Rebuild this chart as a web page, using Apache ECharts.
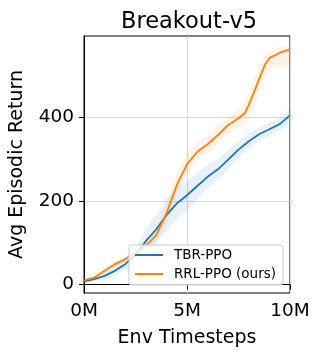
<!DOCTYPE html>
<html style="height: 100%">
<head>
    <meta charset="utf-8">
    <title>Breakout-v5</title>
    <script type="text/javascript" src="https://cdn.jsdelivr.net/npm/echarts@6/dist/echarts.min.js"></script>
</head>
<body style="height: 100%; margin: 0;">
<div id="container" style="height: 356px;width: 320px"></div>
<script type="text/javascript">
    // timesteps in millions
    var steps = [0, 0.5, 1, 1.5, 2, 2.5, 3, 3.5, 4, 4.5, 5, 5.5, 6, 6.5, 7, 7.5, 8, 8.5, 9, 9.5, 10];
    var tbrMean = [8, 13, 21, 33, 49, 70, 104, 132, 166, 194, 214, 236, 258, 276, 299, 323, 343, 360, 372, 384, 405];
    var tbrLow  = [4, 8, 14, 23, 35, 50, 76, 97, 128, 156, 178, 204, 230, 251, 276, 303, 325, 344, 357, 370, 391];
    var tbrHigh = [12, 18, 28, 43, 63, 90, 132, 167, 204, 232, 250, 268, 286, 301, 322, 343, 361, 376, 387, 398, 419];
    var rrlSteps = [0, 0.5, 1, 1.5, 2, 2.5, 3, 3.5, 4, 4.5, 5, 5.5, 6, 6.5, 7, 7.5, 7.8, 8, 8.25, 8.5, 8.8, 9, 9.5, 10];
    var rrlMean = [10, 17, 33, 49, 61, 75, 93, 118, 170, 238, 288, 318, 336, 358, 382, 398, 410, 430, 460, 492, 528, 542, 555, 563];
    var rrlLow  = [6, 12, 26, 42, 53, 65, 80, 100, 145, 210, 262, 296, 316, 336, 362, 376, 385, 398, 425, 462, 505, 515, 520, 520];
    var rrlHigh = [14, 22, 40, 56, 69, 85, 106, 136, 195, 262, 312, 340, 356, 380, 402, 420, 436, 458, 490, 518, 548, 558, 568, 574];
    var yTicks = [0, 200, 400];

    function pairs(xs, ys) {
        var out = [];
        for (var i = 0; i < xs.length; i++) {
            out.push([xs[i], ys[i]]);
        }
        return out;
    }
    function bandData(xs, lo, hi) {
        var out = [];
        for (var i = 0; i < xs.length; i++) {
            out.push([xs[i], lo[i], hi[i]]);
        }
        return out;
    }
    // one polygon for the whole band, drawn on the first item
    function bandSeries(data, color) {
        return {
            type: 'custom', silent: true, z: 1,
            data: data,
            encode: { x: 0, y: [1, 2] },
            renderItem: function (params, api) {
                if (params.dataIndex !== 0) return;
                var top = [], bottom = [];
                for (var i = 0; i < data.length; i++) {
                    top.push(api.coord([data[i][0], data[i][2]]));
                    bottom.push(api.coord([data[i][0], data[i][1]]));
                }
                return {
                    type: 'polygon',
                    shape: { points: top.concat(bottom.reverse()), smooth: 0.2 },
                    style: { fill: color, opacity: 0.1 }
                };
            }
        };
    }

    var blue = '#1f77b4';
    var orange = '#ff7f0e';
    var font = 'DejaVu Sans';

    var myChart = echarts.init(document.getElementById('container'));
    var option = {
        animation: false,
        textStyle: { fontFamily: font },
        title: {
            text: 'Breakout-v5',
            left: 184,
            textAlign: 'center',
            top: 6,
            textStyle: { fontFamily: font, fontSize: 22.5, fontWeight: 'normal', color: '#000' }
        },
        grid: {
            left: 81, right: 30, top: 36, bottom: 63,
            show: true, borderColor: '#000', borderWidth: 1
        },
        legend: {
            data: ['TBR-PPO', 'RRL-PPO (ours)'],
            orient: 'vertical',
            right: 37,
            bottom: 71,
            itemWidth: 28,
            itemHeight: 2,
            itemGap: 5,
            padding: [3, 7, 4, 5],
            backgroundColor: 'rgba(255,255,255,0.8)',
            borderColor: '#cccccc',
            borderWidth: 1,
            borderRadius: 3,
            textStyle: { fontFamily: font, fontSize: 13.5, color: '#000', padding: [0, 0, 0, 6] }
        },
        xAxis: {
            type: 'value',
            min: 0,
            max: 10,
            interval: 5,
            name: 'Env Timesteps',
            nameLocation: 'middle',
            nameGap: 36,
            nameTextStyle: { fontFamily: font, fontSize: 19, color: '#000' },
            axisLine: { lineStyle: { color: '#000' } },
            axisTick: { show: true, length: 5, lineStyle: { color: '#000' } },
            axisLabel: {
                fontFamily: font, fontSize: 18.5, color: '#000', margin: 9,
                formatter: function (v) { return v + 'M'; }
            },
            splitLine: { show: true, lineStyle: { color: '#d9d9d9' } }
        },
        yAxis: {
            type: 'value',
            min: -20,
            max: 595,
            name: 'Avg Episodic Return',
            nameLocation: 'middle',
            nameGap: 57,
            nameTextStyle: { fontFamily: font, fontSize: 19, color: '#000' },
            axisLine: { show: true, lineStyle: { color: '#000' } },
            axisTick: { show: true, length: 5, customValues: yTicks, lineStyle: { color: '#000' } },
            axisLabel: { fontFamily: font, fontSize: 18.5, color: '#000', margin: 10, customValues: yTicks },
            splitLine: { show: true, lineStyle: { color: '#d9d9d9' } }
        },
        series: [
            bandSeries(bandData(steps, tbrLow, tbrHigh), blue),
            bandSeries(bandData(rrlSteps, rrlLow, rrlHigh), orange),
            {
                name: 'TBR-PPO', type: 'line', symbol: 'none', color: blue, z: 3,
                data: pairs(steps, tbrMean), lineStyle: { width: 1.8, color: blue }
            },
            {
                name: 'RRL-PPO (ours)', type: 'line', symbol: 'none', color: orange, z: 3,
                data: pairs(rrlSteps, rrlMean), lineStyle: { width: 1.8, color: orange }
            }
        ]
    };
    myChart.setOption(option, true);
</script>
</body>
</html>
